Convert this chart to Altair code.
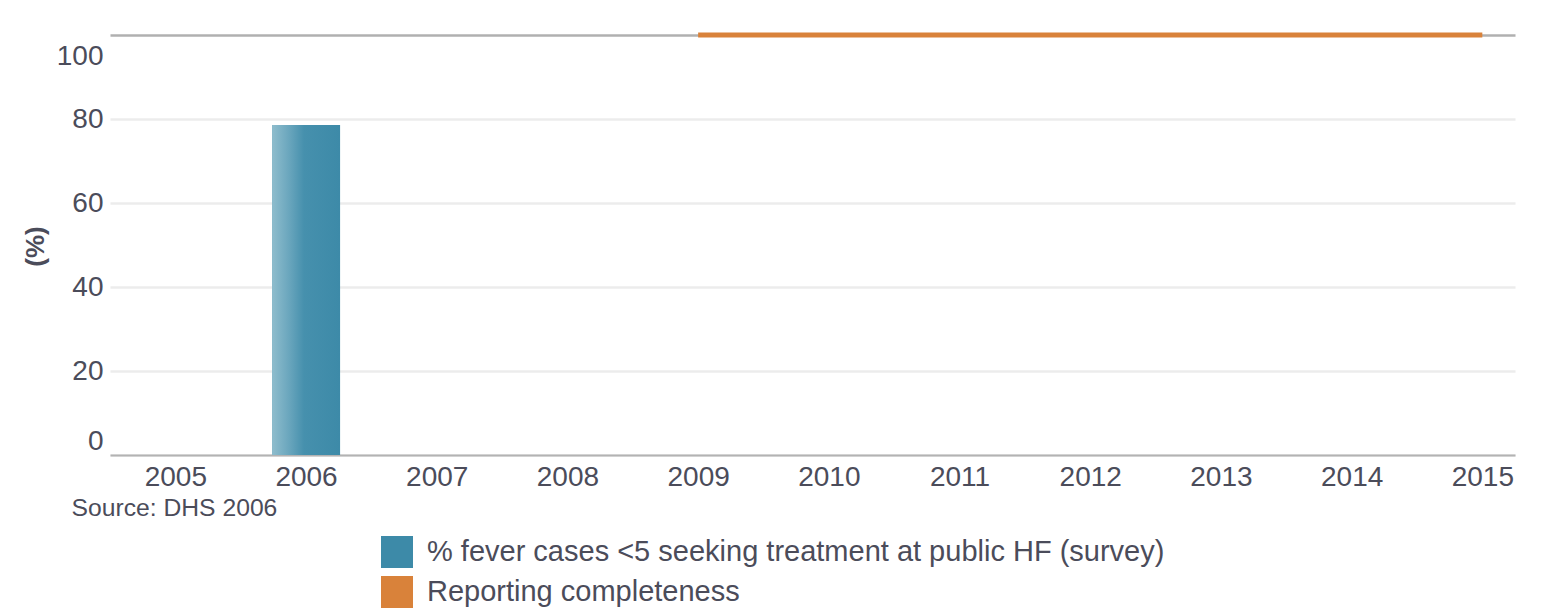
import altair as alt
import pandas as pd

# ---- data ----
series_names = ["% fever cases <5 seeking treatment at public HF (survey)", "Reporting completeness"]
series_colors = ["#3d8aa8", "#d9823a"]

bar_years = [2006]
bar_values = [78.6]

line_years = [2009, 2010, 2011, 2012, 2013, 2014, 2015]
line_values = [100, 100, 100, 100, 100, 100, 100]

year_ticks = [2005, 2006, 2007, 2008, 2009, 2010, 2011, 2012, 2013, 2014, 2015]
y_ticks = [0, 20, 40, 60, 80, 100]
source_note = "Source: DHS 2006"

bar_df = pd.DataFrame({"year": bar_years, "value": bar_values, "series": [series_names[0]] * len(bar_years)})
line_df = pd.DataFrame({"year": line_years, "value": line_values, "series": [series_names[1]] * len(line_years)})

TXT = "#4b4c5a"
FONT = "Liberation Sans"

x_enc = alt.X(
    "year:Q",
    scale=alt.Scale(domain=[2004.5, 2015.25], nice=False, zero=False, padding=0),
    axis=alt.Axis(
        values=year_ticks, format="d", grid=False, ticks=False,
        domain=True, domainColor="#b3b3b3", domainWidth=2,
        labelFontSize=28, labelColor=TXT, labelPadding=8, labelFlush=False,
        labelFont=FONT,
        title=source_note, titleFontSize=24.7, titleFontWeight="normal", titleColor=TXT,
        titleFont=FONT, titleX=-39, titleY=40, titleAlign="left", titleBaseline="top",
        titleAnchor="start",
    ),
)
y_enc = alt.Y(
    "value:Q",
    scale=alt.Scale(domain=[0, 100], nice=False, padding=0),
    axis=alt.Axis(
        values=y_ticks, title="(%)", grid=True,
        gridColor=alt.condition("datum.value === 100", alt.value("#b0b0b0"), alt.value("#ececec")),
        gridWidth=2.5, domain=False, ticks=False,
        labelFontSize=28, labelColor=TXT, labelPadding=7, labelFlush=True,
        labelOffset=alt.condition("datum.value === 100", alt.value(7), alt.value(0)),
        labelFont=FONT,
        titleFontSize=26, titleFontWeight="bold", titleColor=TXT, titleFont=FONT,
        titleX=-62, titleY=211,
    ),
)

bar_solid = alt.Chart(bar_df).mark_bar(size=68).encode(
    x=x_enc,
    y=y_enc,
    color=alt.Color(
        "series:N",
        scale=alt.Scale(domain=series_names, range=series_colors),
        legend=alt.Legend(
            title=None, orient="none", legendX=271, legendY=501, padding=0,
            symbolType="square", symbolSize=1024, symbolStrokeWidth=0,
            labelFontSize=29, labelColor=TXT, labelFont=FONT, labelOffset=14,
            rowPadding=8, labelLimit=1000,
        ),
    ),
)

bar_grad = alt.Chart(bar_df).mark_bar(
    size=68,
    color=alt.Gradient(
        gradient="linear", x1=0, x2=1, y1=0, y2=0,
        stops=[
            alt.GradientStop(offset=0, color="#8fbdcd"),
            alt.GradientStop(offset=0.25, color="#6aa6bd"),
            alt.GradientStop(offset=0.47, color="#4690ad"),
            alt.GradientStop(offset=1, color="#3d8aa8"),
        ],
    ),
).encode(x="year:Q", y="value:Q")

line = alt.Chart(line_df).mark_line(color=series_colors[1], strokeWidth=5, strokeCap="butt").encode(
    x="year:Q", y="value:Q"
)

chart = alt.layer(bar_solid, bar_grad, line).properties(
    width=1405,
    height=420,
    autosize=alt.AutoSizeParams(type="none"),
    padding={"left": 102, "top": 27, "right": 20, "bottom": 156},
).configure(font=FONT, view=alt.ViewConfig(stroke=None))

chart.save("out.html", embed_options={"renderer": "svg", "actions": False})
